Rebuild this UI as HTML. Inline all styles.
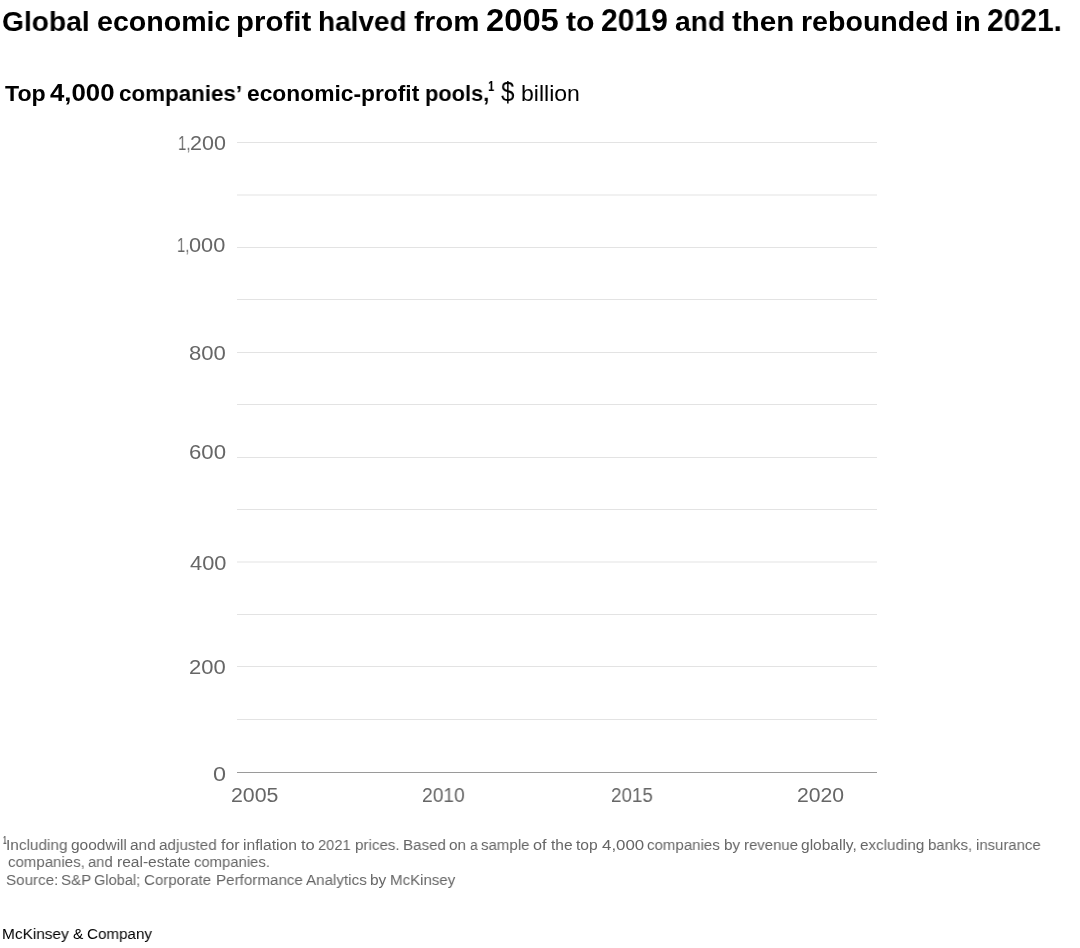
<!DOCTYPE html>
<html>
<head>
<meta charset="utf-8">
<style>
html,body{margin:0;padding:0;background:#fff;}
body{width:1080px;height:948px;position:relative;overflow:hidden;font-family:"Liberation Sans",Arial,sans-serif;}
.t{will-change:transform;position:absolute;white-space:nowrap;line-height:1;transform-origin:0 0;margin:0;padding:0;}
.g{position:absolute;left:237px;width:640px;height:1px;background:#e3e3e3;}
.h{position:absolute;left:237px;width:640px;height:1px;background:#f1f1f1;}
#axis{position:absolute;left:237px;width:640px;top:772px;height:1px;background:#9a9a9a;}
</style>
</head>
<body>
<div class="g" style="top:142px"></div>
<div class="h" style="top:194px"></div><div class="h" style="top:195px"></div>
<div class="g" style="top:247px"></div>
<div class="g" style="top:299px"></div>
<div class="g" style="top:352px"></div>
<div class="g" style="top:404px"></div>
<div class="g" style="top:457px"></div>
<div class="g" style="top:509px"></div>
<div class="h" style="top:561px"></div><div class="h" style="top:562px"></div>
<div class="g" style="top:614px"></div>
<div class="g" style="top:666px"></div>
<div class="g" style="top:719px"></div>
<div id="axis"></div>
<div id="title"><span class="t" id="title_0" style="left:1.98px;top:7.01px;font-size:28.5px;font-weight:700;color:#000;transform:scale(0.9882,1.0000);">Global</span> <span class="t" id="title_1" style="left:97.05px;top:7.01px;font-size:28.5px;font-weight:700;color:#000;transform:scale(1.0029,1.0000);">economic</span> <span class="t" id="title_2" style="left:236.24px;top:7.01px;font-size:28.5px;font-weight:700;color:#000;transform:scale(1.0326,1.0000);">profit</span> <span class="t" id="title_3" style="left:318.34px;top:7.01px;font-size:28.5px;font-weight:700;color:#000;transform:scale(0.9801,1.0000);">halved</span> <span class="t" id="title_4" style="left:413.89px;top:7.01px;font-size:28.5px;font-weight:700;color:#000;transform:scale(1.0348,1.0000);">from</span> <span class="t" id="title_5" style="left:485.68px;top:5.01px;font-size:30.5px;font-weight:700;color:#000;transform:scale(1.0734,1.0000);">2005</span> <span class="t" id="title_6" style="left:565.93px;top:7.01px;font-size:28.5px;font-weight:700;color:#000;transform:scale(1.0623,1.0000);">to</span> <span class="t" id="title_7" style="left:600.83px;top:5.01px;font-size:30.5px;font-weight:700;color:#000;transform:scale(0.9831,1.0000);">2019</span> <span class="t" id="title_8" style="left:675.01px;top:7.01px;font-size:28.5px;font-weight:700;color:#000;transform:scale(0.9897,1.0000);">and</span> <span class="t" id="title_9" style="left:731.76px;top:7.01px;font-size:28.5px;font-weight:700;color:#000;transform:scale(1.0358,1.0000);">then</span> <span class="t" id="title_10" style="left:801.09px;top:7.01px;font-size:28.5px;font-weight:700;color:#000;transform:scale(1.0025,1.0000);">rebounded</span> <span class="t" id="title_11" style="left:954.93px;top:7.01px;font-size:28.5px;font-weight:700;color:#000;transform:scale(1.0188,1.0000);">in</span> <span class="t" id="title_12" style="left:987.14px;top:5.01px;font-size:30.5px;font-weight:700;color:#000;transform:scale(0.9816,1.0000);">2021.</span> </div>
<div id="subb"><span class="t" id="subb_0" style="left:4.91px;top:82.70px;font-size:22.5px;font-weight:700;color:#000;transform:scale(1.0290,1.0000);">Top</span> <span class="t" id="subb_1" style="left:50.26px;top:81.71px;font-size:23px;font-weight:700;color:#000;transform:scale(1.1207,1.0000);">4,000</span> <span class="t" id="subb_2" style="left:119.00px;top:82.70px;font-size:22.5px;font-weight:700;color:#000;transform:scale(0.9946,1.0000);">companies’</span> <span class="t" id="subb_3" style="left:247.18px;top:82.71px;font-size:22.5px;font-weight:700;color:#000;transform:scale(1.0135,1.0000);">economic-profit</span> <span class="t" id="subb_4" style="left:424.66px;top:82.71px;font-size:22.5px;font-weight:700;color:#000;transform:scale(0.9695,1.0000);">pools,</span> </div>
<div class="t" id="sup1" style="left:488.44px;top:78.91px;font-size:14.5px;font-weight:700;color:#000;transform:scale(0.7775,1.0000);">1</div>
<div id="subr"><span class="t" id="subr_0" style="left:500.95px;top:77.71px;font-size:28px;color:#000;transform:scale(0.8632,1.0000);">$</span> <span class="t" id="subr_1" style="left:520.67px;top:82.70px;font-size:22px;color:#000;transform:scale(1.0463,1.0000);">billion</span> </div>
<div id="y1200"><span class="t" id="y1200_0" style="left:177.53px;top:133.91px;font-size:19.6px;color:#666;transform:scale(0.7559,1.0000);">1,</span> <span class="t" id="y1200_1" style="left:189.95px;top:133.91px;font-size:19.6px;color:#666;transform:scale(1.0969,1.0000);">200</span> </div>
<div id="y1000"><span class="t" id="y1000_0" style="left:177.07px;top:236.01px;font-size:19.6px;color:#666;transform:scale(0.7484,1.0000);">1,</span> <span class="t" id="y1000_1" style="left:189.12px;top:236.01px;font-size:19.6px;color:#666;transform:scale(1.1110,1.0000);">000</span> </div>
<div class="t" id="y800" style="left:188.84px;top:343.61px;font-size:19.6px;color:#666;transform:scale(1.1293,1.0000);">800</div>
<div class="t" id="y600" style="left:189.19px;top:443.21px;font-size:19.6px;color:#666;transform:scale(1.1324,1.0000);">600</div>
<div class="t" id="y400" style="left:189.57px;top:554.01px;font-size:19.6px;color:#666;transform:scale(1.1134,1.0000);">400</div>
<div class="t" id="y200" style="left:189.36px;top:657.51px;font-size:19.6px;color:#666;transform:scale(1.1226,1.0000);">200</div>
<div class="t" id="y0" style="left:212.76px;top:764.51px;font-size:19.6px;color:#666;transform:scale(1.1949,1.0000);">0</div>
<div class="t" id="x2005" style="left:231.19px;top:786.11px;font-size:19.6px;color:#666;transform:scale(1.0893,1.0000);">2005</div>
<div class="t" id="x2010" style="left:422.02px;top:786.10px;font-size:19.6px;color:#666;transform:scale(0.9795,1.0000);">2010</div>
<div class="t" id="x2015" style="left:611.04px;top:786.10px;font-size:19.6px;color:#666;transform:scale(0.9588,1.0000);">2015</div>
<div class="t" id="x2020" style="left:797.09px;top:786.10px;font-size:19.6px;color:#666;transform:scale(1.0813,1.0000);">2020</div>
<div class="t" id="fnsup" style="left:2.62px;top:835.71px;font-size:10px;font-weight:700;color:#666;transform:scale(0.6384,1.0000);">1</div>
<div id="fn1"><span class="t" id="fn1_0" style="left:6.16px;top:836.81px;font-size:15.5px;color:#666;transform:scale(0.9910,1.0000);">Including</span> <span class="t" id="fn1_1" style="left:70.92px;top:836.81px;font-size:15.5px;color:#666;transform:scale(0.9976,1.0000);">goodwill</span> <span class="t" id="fn1_2" style="left:130.31px;top:836.82px;font-size:15.5px;color:#666;transform:scale(0.9935,1.0000);">and</span> <span class="t" id="fn1_3" style="left:159.11px;top:836.82px;font-size:15.5px;color:#666;transform:scale(0.9857,1.0000);">adjusted</span> <span class="t" id="fn1_4" style="left:221.19px;top:836.81px;font-size:15.5px;color:#666;transform:scale(1.0263,1.0000);">for</span> <span class="t" id="fn1_5" style="left:242.85px;top:836.80px;font-size:15.5px;color:#666;transform:scale(1.0101,1.0000);">inflation</span> <span class="t" id="fn1_6" style="left:300.62px;top:836.81px;font-size:15.5px;color:#666;transform:scale(1.0654,1.0000);">to</span> <span class="t" id="fn1_7" style="left:317.88px;top:836.82px;font-size:15.5px;color:#666;transform:scale(0.9492,1.0000);">2021</span> <span class="t" id="fn1_8" style="left:355.27px;top:836.80px;font-size:15.5px;color:#666;transform:scale(0.9794,1.0000);">prices.</span> <span class="t" id="fn1_9" style="left:403.06px;top:836.81px;font-size:15.5px;color:#666;transform:scale(0.9781,1.0000);">Based</span> <span class="t" id="fn1_10" style="left:448.92px;top:836.81px;font-size:15.5px;color:#666;transform:scale(0.9907,1.0000);">on</span> <span class="t" id="fn1_11" style="left:470.04px;top:836.81px;font-size:15.5px;color:#666;transform:scale(0.9055,1.0000);">a</span> <span class="t" id="fn1_12" style="left:480.91px;top:836.81px;font-size:15.5px;color:#666;transform:scale(0.9702,1.0000);">sample</span> <span class="t" id="fn1_13" style="left:533.06px;top:836.82px;font-size:15.5px;color:#666;transform:scale(1.0458,1.0000);">of</span> <span class="t" id="fn1_14" style="left:550.80px;top:836.62px;font-size:15.5px;color:#666;">the</span> <span class="t" id="fn1_15" style="left:575.87px;top:836.80px;font-size:15.5px;color:#666;transform:scale(1.0066,1.0000);">top</span> <span class="t" id="fn1_16" style="left:601.78px;top:836.81px;font-size:15.5px;color:#666;transform:scale(1.0877,1.0000);">4,000</span> <span class="t" id="fn1_17" style="left:647.22px;top:836.80px;font-size:15.5px;color:#666;transform:scale(0.9705,1.0000);">companies</span> <span class="t" id="fn1_18" style="left:723.97px;top:836.80px;font-size:15.5px;color:#666;transform:scale(0.9864,1.0000);">by</span> <span class="t" id="fn1_19" style="left:744.05px;top:836.80px;font-size:15.5px;color:#666;transform:scale(0.9623,1.0000);">revenue</span> <span class="t" id="fn1_20" style="left:801.16px;top:836.81px;font-size:15.5px;color:#666;transform:scale(1.0010,1.0000);">globally,</span> <span class="t" id="fn1_21" style="left:859.89px;top:836.81px;font-size:15.5px;color:#666;transform:scale(0.9827,1.0000);">excluding</span> <span class="t" id="fn1_22" style="left:928.37px;top:836.81px;font-size:15.5px;color:#666;transform:scale(0.9685,1.0000);">banks,</span> <span class="t" id="fn1_23" style="left:975.97px;top:836.81px;font-size:15.5px;color:#666;transform:scale(0.9632,1.0000);">insurance</span> </div>
<div id="fn2"><span class="t" id="fn2_0" style="left:8.13px;top:854.41px;font-size:15.5px;color:#666;transform:scale(0.9687,1.0000);">companies,</span> <span class="t" id="fn2_1" style="left:87.94px;top:854.41px;font-size:15.5px;color:#666;transform:scale(0.9563,1.0000);">and</span> <span class="t" id="fn2_2" style="left:116.86px;top:854.41px;font-size:15.5px;color:#666;transform:scale(1.0036,1.0000);">real-estate</span> <span class="t" id="fn2_3" style="left:194.33px;top:854.41px;font-size:15.5px;color:#666;transform:scale(0.9572,1.0000);">companies.</span> </div>
<div id="fn3"><span class="t" id="fn3_0" style="left:6.21px;top:871.80px;font-size:15.5px;color:#666;transform:scale(0.9804,1.0000);">Source:</span> <span class="t" id="fn3_1" style="left:60.62px;top:871.80px;font-size:15.5px;color:#666;transform:scale(0.9743,1.0000);">S&amp;P</span> <span class="t" id="fn3_2" style="left:93.99px;top:871.80px;font-size:15.5px;color:#666;transform:scale(0.9427,1.0000);">Global;</span> <span class="t" id="fn3_3" style="left:143.75px;top:871.81px;font-size:15.5px;color:#666;transform:scale(0.9736,1.0000);">Corporate</span> <span class="t" id="fn3_4" style="left:215.50px;top:871.81px;font-size:15.5px;color:#666;transform:scale(0.9799,1.0000);">Performance</span> <span class="t" id="fn3_5" style="left:305.59px;top:871.81px;font-size:15.5px;color:#666;transform:scale(0.9804,1.0000);">Analytics</span> <span class="t" id="fn3_6" style="left:369.74px;top:871.81px;font-size:15.5px;color:#666;transform:scale(0.9957,1.0000);">by</span> <span class="t" id="fn3_7" style="left:390.11px;top:871.81px;font-size:15.5px;color:#666;transform:scale(0.9708,1.0000);">McKinsey</span> </div>
<div id="mck"><span class="t" id="mck_0" style="left:2.13px;top:925.75px;font-size:15.5px;color:#000;transform:scale(0.9927,1.0000);">McKinsey</span> <span class="t" id="mck_1" style="left:73.30px;top:925.58px;font-size:15.5px;color:#000;">&amp;</span> <span class="t" id="mck_2" style="left:86.54px;top:925.75px;font-size:15.5px;color:#000;transform:scale(0.9800,1.0000);">Company</span> </div>
</body>
</html>
